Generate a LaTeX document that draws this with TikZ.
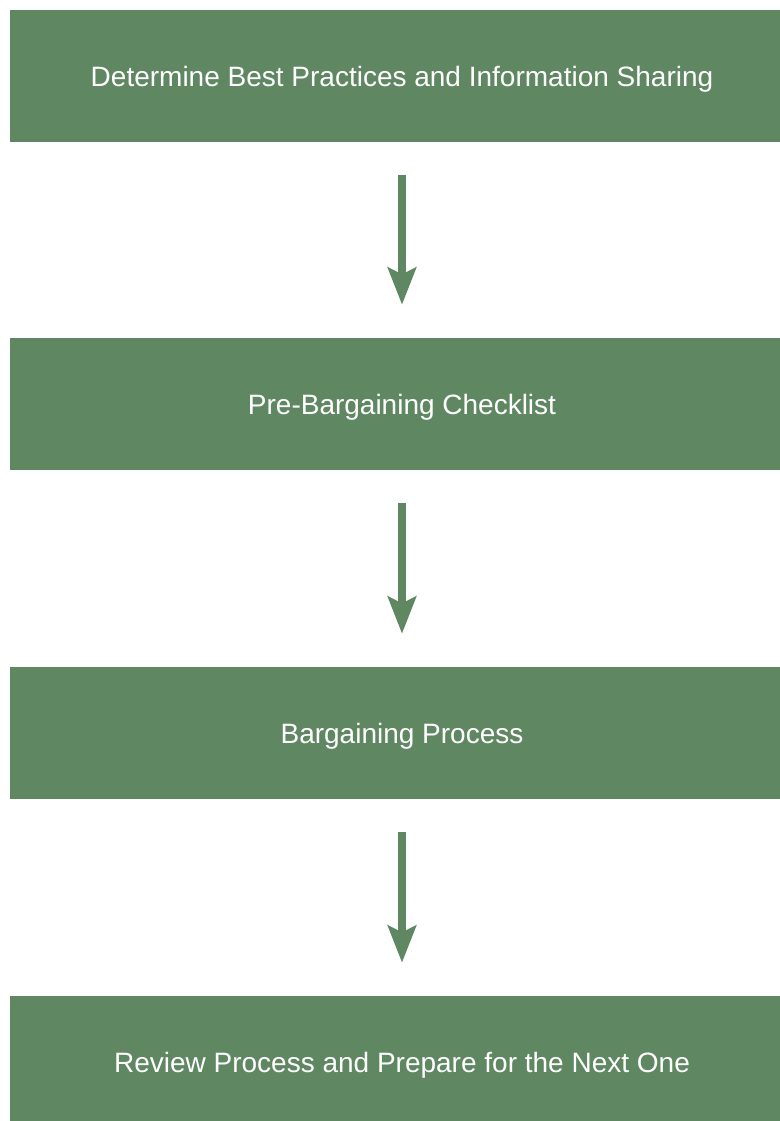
\documentclass[tikz,border=0pt]{standalone}
\usepackage{fontspec}
\setmainfont{Liberation Sans}
\usetikzlibrary{arrows.meta}
\definecolor{sage}{RGB}{94,135,98}

\begin{document}
\begin{tikzpicture}[x=0.75pt,y=-0.75pt]
\tikzstyle{step box}=[rectangle, fill=sage, text=white, minimum width=588pt, minimum height=99pt, inner sep=0pt, text height=15pt, text depth=0pt, font=\fontsize{21}{25}\selectfont]
\tikzstyle{connect}=[-{Stealth[length=27.75pt,width=21pt,inset=5pt]}, line width=6pt, draw=sage, shorten <=24.75pt, shorten >=24.75pt]

\useasboundingbox (0,0) rectangle (780,1121);
\node[step box] at (402,76) (practices) {Determine Best Practices and Information Sharing};
\node[step box] at (402,404) (checklist) {Pre-Bargaining Checklist};
\node[step box] at (402,733) (bargaining) {Bargaining Process};
\node[step box] at (402,1062) (review) {Review Process and Prepare for the Next One};
\path (practices) edge [connect] (checklist);
\path (checklist) edge [connect] (bargaining);
\path (bargaining) edge [connect] (review);
\end{tikzpicture}
\end{document}
